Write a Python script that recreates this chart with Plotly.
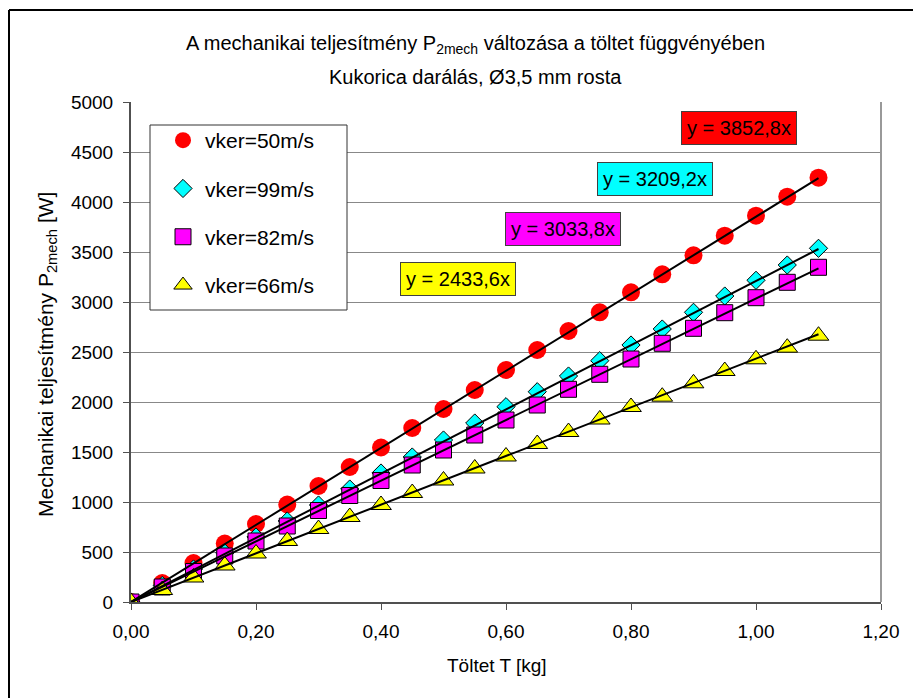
import plotly.graph_objects as go

# ---- data ----
toltet = [0.00, 0.05, 0.10, 0.15, 0.20, 0.25, 0.30, 0.35, 0.40, 0.45, 0.50, 0.55,
          0.60, 0.65, 0.70, 0.75, 0.80, 0.85, 0.90, 0.95, 1.00, 1.05, 1.10]

p_50 = [0, 190, 390, 585, 780, 975, 1160, 1350, 1545, 1740, 1930, 2120,
        2320, 2520, 2710, 2897, 3097, 3277, 3467, 3663, 3863, 4053, 4243]
p_99 = [0, 165, 330, 490, 650, 810, 970, 1130, 1290, 1450, 1620, 1790,
        1953, 2103, 2260, 2413, 2570, 2730, 2897, 3060, 3217, 3370, 3537]
p_82 = [0, 150, 305, 460, 610, 760, 915, 1065, 1215, 1370, 1520, 1670,
        1820, 1970, 2127, 2277, 2430, 2587, 2737, 2893, 3043, 3197, 3347]
p_66 = [0, 120, 245, 365, 485, 610, 730, 850, 970, 1090, 1215, 1335,
        1455, 1580, 1700, 1825, 1950, 2053, 2187, 2310, 2427, 2543, 2663]

series_names = ["vker=50m/s", "vker=99m/s", "vker=82m/s", "vker=66m/s"]
series_values = [p_50, p_99, p_82, p_66]
trend_slopes = [3852.8, 3209.2, 3033.8, 2433.6]
trend_labels = ["y = 3852,8x", "y = 3209,2x", "y = 3033,8x", "y = 2433,6x"]

x_ticks = [0.0, 0.2, 0.4, 0.6, 0.8, 1.0, 1.2]
x_ticktext = ["0,00", "0,20", "0,40", "0,60", "0,80", "1,00", "1,20"]
y_ticks = [0, 500, 1000, 1500, 2000, 2500, 3000, 3500, 4000, 4500, 5000]

# ---- styles ----
colors = ["#FF0000", "#00FFFF", "#FF00FF", "#FFFF00"]
symbols = ["circle", "diamond", "square", "triangle-up"]
sizes = [18, 14, 16, 18]
line_w = [0, 1, 1, 1]
label_pos = [(0.9728, 4743), (0.8376, 4228), (0.6904, 3728), (0.5224, 3233)]

FONT = "Liberation Sans, Arial, sans-serif"

# page body adds an 8px offset; positions below are given in screen pixels
OFF = 8
W, H = 913, 690
L, R, T, B = 123, 40, 94, 96
pw, ph = W - L - R, H - T - B


def px(xs):
    return (xs - OFF - L) / pw


def py(ys):
    return (H - B - (ys - OFF)) / ph


fig = go.Figure()

for i, (name, vals) in enumerate(zip(series_names, series_values)):
    fig.add_trace(go.Scatter(
        x=toltet, y=vals, mode="markers", name=name,
        legendgroup=name,
        marker=dict(symbol=symbols[i], size=sizes[i], color=colors[i],
                    line=dict(color="black", width=line_w[i])),
    ))

for i, k in enumerate(trend_slopes):
    xs = [toltet[0], toltet[-1]]
    fig.add_trace(go.Scatter(
        x=xs, y=[k * v for v in xs], mode="lines", showlegend=False,
        line=dict(color="black", width=2), hoverinfo="skip",
    ))

for i, txt in enumerate(trend_labels):
    fig.add_annotation(
        x=label_pos[i][0], y=label_pos[i][1], xref="x", yref="y",
        xanchor="center", yanchor="middle",
        text=txt, showarrow=False, bgcolor=colors[i],
        bordercolor="#404040", borderwidth=1, borderpad=5,
        font=dict(family=FONT, size=20, color="black"),
    )

fig.add_annotation(x=px(475), y=py(45), xref="paper", yref="paper", showarrow=False,
                   xanchor="center", yanchor="middle",
                   text="A mechanikai teljesítmény P<sub>2mech</sub> változása a töltet függvényében",
                   font=dict(family=FONT, size=20, color="black"))
fig.add_annotation(x=px(475), y=py(77), xref="paper", yref="paper", showarrow=False,
                   xanchor="center", yanchor="middle",
                   text="Kukorica darálás, Ø3,5 mm rosta",
                   font=dict(family=FONT, size=20, color="black"))
fig.add_annotation(x=px(497), y=py(665), xref="paper", yref="paper", showarrow=False,
                   xanchor="center", yanchor="middle",
                   text="Töltet T [kg]",
                   font=dict(family=FONT, size=19, color="black"))
fig.add_annotation(x=px(47), y=py(355), xref="paper", yref="paper", showarrow=False,
                   xanchor="center", yanchor="middle",
                   text="Mechanikai teljesítmény P<sub>2mech</sub> [W]", textangle=-90,
                   font=dict(family=FONT, size=21, color="black"))

# outer chart border (left and top edges; right/bottom lie outside the view)
fig.add_shape(type="line", xref="paper", yref="paper",
              x0=px(9), x1=px(9), y0=py(740), y1=py(10),
              line=dict(color="black", width=2), layer="below")
fig.add_shape(type="line", xref="paper", yref="paper",
              x0=px(9), x1=px(960), y0=py(10), y1=py(10),
              line=dict(color="black", width=2), layer="below")
# plot area right border
fig.add_shape(type="line", xref="paper", yref="paper",
              x0=1, x1=1, y0=0, y1=1, line=dict(color="#999999", width=2))
# legend box
fig.add_shape(type="rect", xref="paper", yref="paper",
              x0=px(150), x1=px(347), y0=py(310), y1=py(125),
              line=dict(color="#333333", width=1), fillcolor="white", layer="above")

fig.update_layout(
    width=W, height=H,
    margin=dict(l=L, r=R, t=T, b=B),
    paper_bgcolor="white", plot_bgcolor="white",
    font=dict(family=FONT, size=16, color="black"),
    showlegend=True,
    legend=dict(
        x=px(161), y=py(120), xanchor="left", yanchor="top",
        bgcolor="rgba(0,0,0,0)", borderwidth=0,
        font=dict(family=FONT, size=21, color="black"),
        tracegroupgap=18, itemwidth=34,
    ),
    xaxis=dict(
        range=[0, 1.2], tickvals=x_ticks, ticktext=x_ticktext,
        showgrid=False, zeroline=False,
        showline=True, linecolor="#505050", linewidth=2,
        ticks="outside", ticklen=6, tickcolor="#505050", tickwidth=1,
        ticklabelstandoff=5,
        tickfont=dict(family=FONT, size=19),
    ),
    yaxis=dict(
        range=[0, 5000], tickvals=y_ticks, tickformat="d",
        showgrid=True, gridcolor="#888888", gridwidth=1, zeroline=False,
        showline=True, linecolor="#505050", linewidth=2,
        ticks="outside", ticklen=6, tickcolor="#505050", tickwidth=1,
        ticklabelstandoff=6,
        tickfont=dict(family=FONT, size=19),
    ),
)

fig.write_html("out.html")
